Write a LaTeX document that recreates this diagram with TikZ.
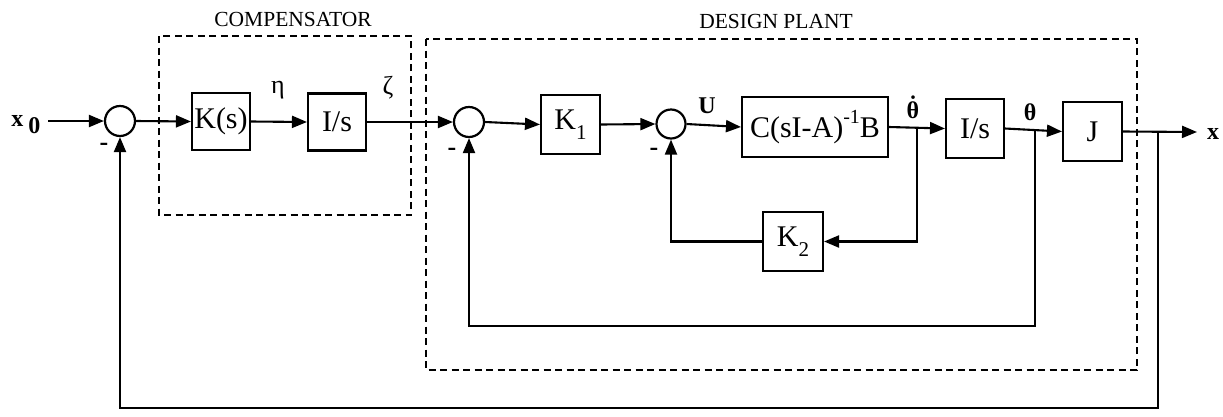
\documentclass[tikz,border=0pt]{standalone}
\usepackage{fontspec}
\setmainfont{Liberation Serif}
\usetikzlibrary{arrows.meta}
\newcommand\lowsub[1]{\raisebox{-0.32em}{\fontsize{21}{21}\selectfont #1}}
\newcommand\supone{\raisebox{0.45em}{\fontsize{20}{20}\selectfont -1}}
\newcommand\thdot{\accent"02D9 θ}
\begin{document}
\begin{tikzpicture}[x=1pt,y=-1pt,
  line width=2.1pt,
  blk/.style={draw, line width=2.1pt, inner sep=0pt, minimum width=58pt, minimum height=57pt, font=\fontsize{30}{32}\selectfont},
  sumc/.style={draw, circle, line width=2.2pt, minimum size=30pt, inner sep=0pt},
  sig/.style={-{Triangle[length=15pt,width=12pt]}},
  lbl/.style={font=\fontsize{24}{26}\selectfont\bfseries, inner sep=0pt},
  glbl/.style={font=\fontsize{26}{28}\selectfont, inner sep=0pt},
  dbox/.style={draw, line width=2.3pt, dash pattern=on 7pt off 4.5pt},
  ttl/.style={font=\fontsize{21.5}{23}\selectfont, inner sep=0pt},
  minus/.style={font=\fontsize{26}{26}\selectfont\bfseries, inner sep=0pt}
]
\useasboundingbox (0,0) rectangle (1223,416);

% group frames
\draw[dbox] (159,36) rectangle (411,215);
\draw[dbox] (426,39) rectangle (1137,370);
\node[ttl] (tc) at (293,19) {COMPENSATOR};
\node[ttl] (tp) at (776,21) {DESIGN PLANT};

% summing junctions and blocks
\node[sumc] (s1) at (120,121) {};
\node[blk] (ks) at (221,121.5) {K(s)};
\node[blk] (is1) at (337,122) {I/s};
\node[sumc] (s2) at (469,122) {};
\node[blk, minimum width=59pt, minimum height=59pt] (k1) at (570.5,124.5) {K\lowsub{1}};
\node[sumc, minimum size=29pt] (s3) at (671,124) {};
\node[blk, minimum width=146pt, minimum height=60pt] (cb) at (815,127) {C(sI-A)\supone B};
\node[blk, minimum height=59pt] (is2) at (975,128.5) {I/s};
\node[blk, minimum width=59pt, minimum height=59pt] (j) at (1092.5,131.5) {J};
\node[blk, minimum width=60pt, minimum height=59pt] (k2) at (793,241.5) {K\lowsub{2}};

% signal labels
\node[lbl] (x0) at (26,125) {x\hspace{5pt}\raisebox{-7pt}{0}};
\node[glbl] (eta) at (278,90) {η};
\node[glbl] (zeta) at (388,88) {ζ};
\node[lbl] (u) at (707,106) {U};
\node[lbl] (thd) at (913,107) {\thdot};
\node[lbl] (th) at (1030,112) {θ};
\node[lbl] (xo) at (1213,134) {x};
\node[minus] (m1) at (104,147) {-};
\node[minus] (m2) at (452,152) {-};
\node[minus] (m3) at (654,152) {-};

% free ends and branch points
\coordinate (x0s) at (48,121);
\coordinate (xend) at (1197,132);
\coordinate (b1) at (917,128);
\coordinate (b2) at (1035,130);
\coordinate (b3) at (1158,132);
\coordinate (c2) at (1035,326);
\coordinate (c3) at (1158,408);

% forward path
\draw[sig] (x0s) -- (s1.west);
\draw[sig] (s1.east) -- (ks.west);
\draw[sig] (ks.east) -- (is1.west);
\draw[sig] (is1.east) -- (s2.west);
\draw[sig] (s2.east) -- (k1.west);
\draw[sig] (k1.east) -- (s3.west);
\draw[sig] (s3.east) -- (cb.west);
\draw[sig] (cb.east) -- (is2.west);
\draw[sig] (is2.east) -- (j.west);
\draw[sig] (j.east) -- (xend);

% feedback paths
\draw[sig] (b1) |- (k2.east);
\draw[sig] (k2.west) -| (s3.south);
\draw[sig] (b2) -- (c2) -| (s2.south);
\draw[sig] (b3) -- (c3) -| (s1.south);
\end{tikzpicture}
\end{document}
